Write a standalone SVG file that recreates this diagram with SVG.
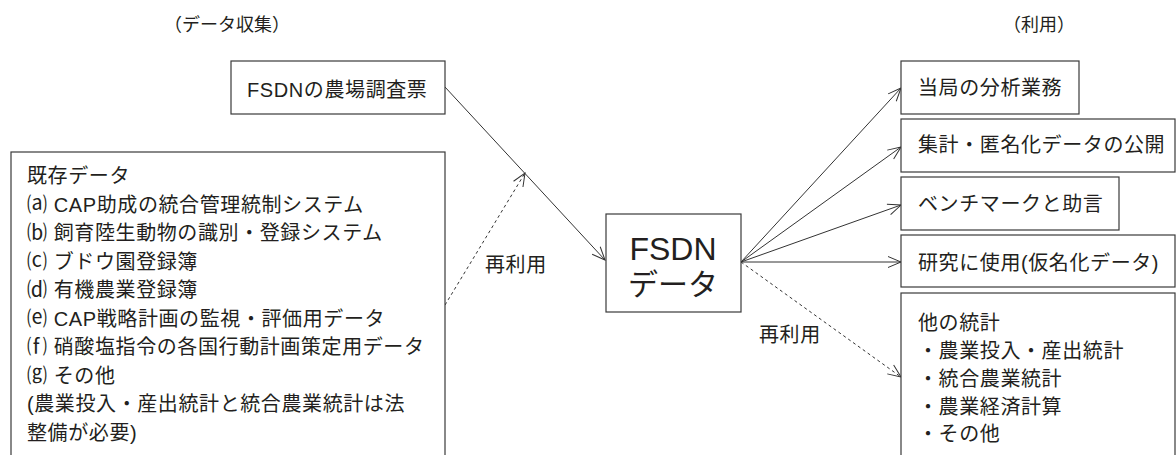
<svg xmlns="http://www.w3.org/2000/svg" width="1176" height="455" viewBox="0 0 1176 455">
<defs>
<style>
text{font-family:"Liberation Sans","Noto Sans CJK JP",sans-serif;fill:#231f20;}
.t{font-size:20px;letter-spacing:0.6px;}
.h{font-size:18px;}
.box{fill:#fff;stroke:#3a3a3a;stroke-width:1.2;}
.ln{stroke:#333;stroke-width:1;fill:none;}
.dash{stroke-dasharray:3 3;}
</style>
<marker id="ah" markerUnits="userSpaceOnUse" markerWidth="16" markerHeight="14" refX="14" refY="7" orient="auto">
<path d="M1,1.5 L14,7 L1,12.5" fill="none" stroke="#333" stroke-width="1"/>
</marker>
</defs>
<rect width="1176" height="455" fill="#fff"/>

<text class="h" x="227" y="31" text-anchor="middle">（データ収集）</text>
<text class="h" x="1039" y="31" text-anchor="middle">（利用）</text>

<g id="connectors">
<line class="ln" x1="445" y1="87" x2="605" y2="260" marker-end="url(#ah)"/>
<line class="ln dash" x1="445" y1="305" x2="525" y2="173" marker-end="url(#ah)"/>
<line class="ln" x1="741" y1="262" x2="901" y2="88" marker-end="url(#ah)"/>
<line class="ln" x1="741" y1="262" x2="901" y2="147" marker-end="url(#ah)"/>
<line class="ln" x1="741" y1="262" x2="901" y2="205" marker-end="url(#ah)"/>
<line class="ln" x1="741" y1="262" x2="901" y2="262" marker-end="url(#ah)"/>
<line class="ln dash" x1="741" y1="262" x2="901" y2="377" marker-end="url(#ah)"/>
<text class="t" x="485" y="272">再利用</text>
<text class="t" x="759" y="342">再利用</text>
</g>

<g id="survey">
<rect class="box" x="231" y="61" width="214" height="53"/>
<text class="t" x="247" y="97">FSDNの農場調査票</text>
</g>

<g id="existing">
<rect class="box" x="11" y="152" width="434" height="320"/>
<text class="t" x="27" y="183">既存データ</text>
<text class="t" x="27" y="211.5">⒜ CAP助成の統合管理統制システム</text>
<text class="t" x="27" y="240">⒝ 飼育陸生動物の識別・登録システム</text>
<text class="t" x="27" y="268.5">⒞ ブドウ園登録簿</text>
<text class="t" x="27" y="297">⒟ 有機農業登録簿</text>
<text class="t" x="27" y="325.5">⒠ CAP戦略計画の監視・評価用データ</text>
<text class="t" x="27" y="354">⒡ 硝酸塩指令の各国行動計画策定用データ</text>
<text class="t" x="27" y="382.5">⒢ その他</text>
<text class="t" x="27" y="411">(農業投入・産出統計と統合農業統計は法</text>
<text class="t" x="27" y="439.5">整備が必要)</text>
</g>

<g id="fsdn">
<rect class="box" x="606" y="214" width="135" height="98"/>
<text x="673" y="260" text-anchor="middle" font-size="32">FSDN</text>
<text x="673" y="295" text-anchor="middle" font-size="30">データ</text>
</g>

<g id="use1">
<rect class="box" x="901" y="61" width="178" height="53"/>
<text class="t" x="918" y="95">当局の分析業務</text>
</g>
<g id="use2">
<rect class="box" x="901" y="119" width="274" height="53"/>
<text class="t" x="918" y="152">集計・匿名化データの公開</text>
</g>
<g id="use3">
<rect class="box" x="901" y="177" width="218" height="53"/>
<text class="t" x="918" y="211">ベンチマークと助言</text>
</g>
<g id="use4">
<rect class="box" x="901" y="235" width="274" height="52"/>
<text class="t" x="918" y="270">研究に使用(仮名化データ)</text>
</g>
<g id="use5">
<rect class="box" x="901" y="293" width="274" height="180"/>
<text class="t" x="918" y="330">他の統計</text>
<text class="t" x="918" y="358">・農業投入・産出統計</text>
<text class="t" x="918" y="385.5">・統合農業統計</text>
<text class="t" x="918" y="413.5">・農業経済計算</text>
<text class="t" x="918" y="441">・その他</text>
</g>
</svg>
